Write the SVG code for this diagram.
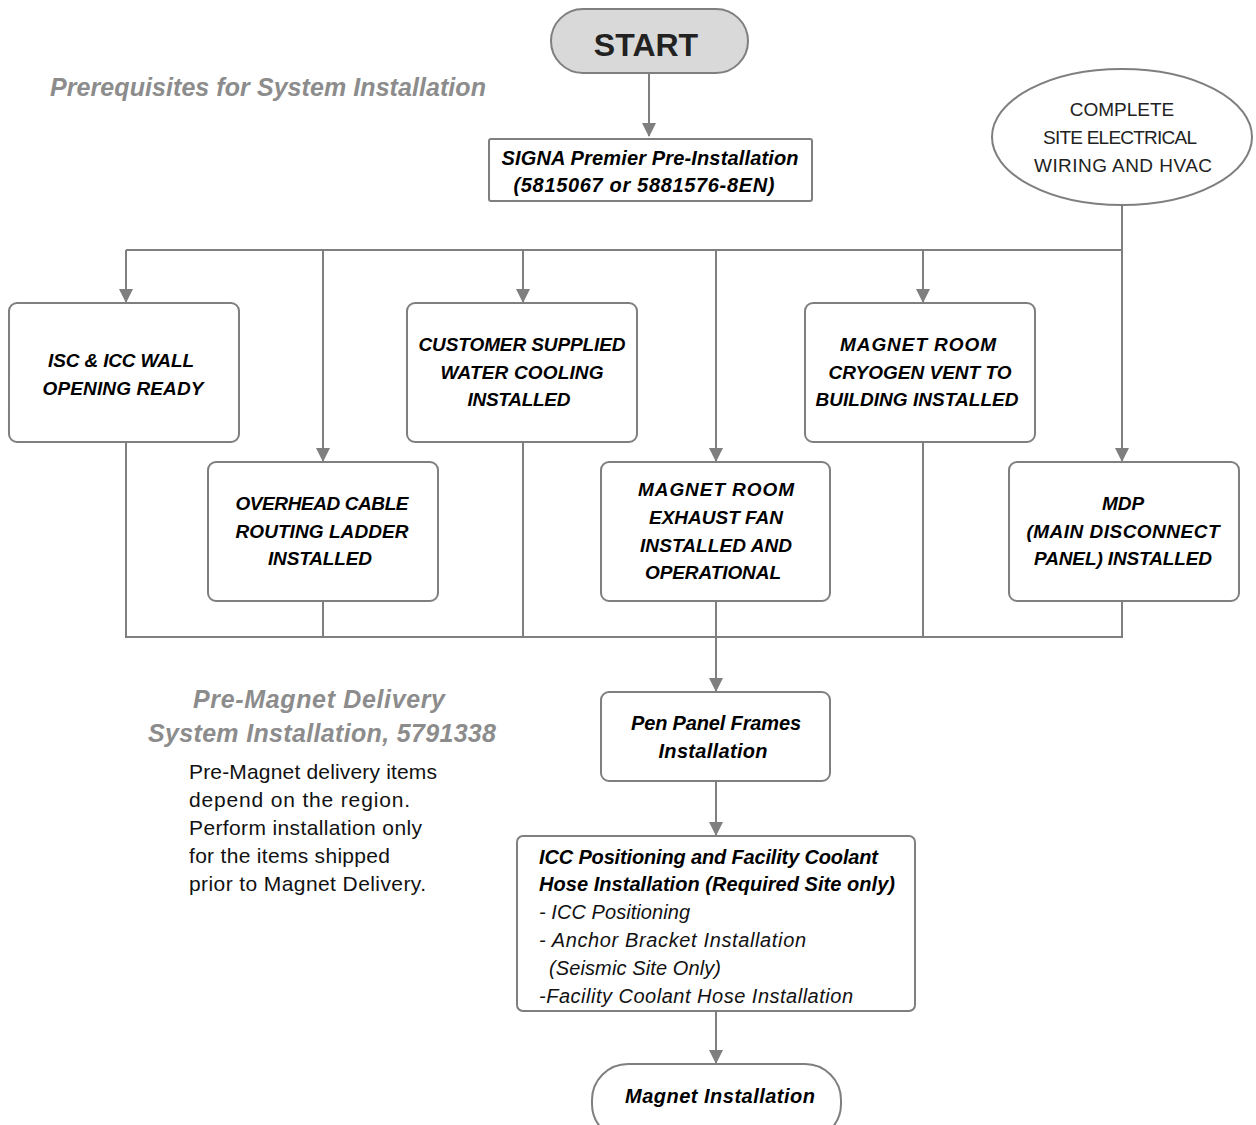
<svg xmlns="http://www.w3.org/2000/svg" width="1256" height="1125" viewBox="0 0 1256 1125">
<style>
.box{fill:#fff;stroke:#7f7f7f;stroke-width:2}
.ln{fill:none;stroke:#7f7f7f;stroke-width:2}
.t{font-family:"Liberation Sans",Arial,sans-serif;font-size:19px;font-weight:bold;font-style:italic;fill:#000;text-anchor:middle}
.m{font-size:20px}
.r{font-family:"Liberation Sans",Arial,sans-serif;font-size:19px;fill:#222;text-anchor:middle}
.gt{font-family:"Liberation Sans",Arial,sans-serif;font-size:25px;font-weight:bold;font-style:italic;fill:#8c8c8c;text-anchor:middle}
.p{font-family:"Liberation Sans",Arial,sans-serif;font-size:21px;fill:#111}
.it{font-family:"Liberation Sans",Arial,sans-serif;font-size:20px;font-style:italic;fill:#111}
.ls{text-anchor:start}
</style>
<defs>
<marker id="ah" markerWidth="14" markerHeight="16" refX="13" refY="7" orient="auto" markerUnits="userSpaceOnUse">
<path d="M0,0 L14,7 L0,14 Z" fill="#7f7f7f"/>
</marker>
</defs>
<rect width="1256" height="1125" fill="#fff"/>
<text class="gt" x="268" y="96" textLength="436">Prerequisites for System Installation</text>
<text class="gt" x="319" y="708" textLength="252">Pre-Magnet Delivery</text>
<text class="gt" x="322" y="742" textLength="348">System Installation, 5791338</text>
<text class="p" x="189" y="779" textLength="248">Pre-Magnet delivery items</text>
<text class="p" x="189" y="807" textLength="221">depend on the region.</text>
<text class="p" x="189" y="835" textLength="233">Perform installation only</text>
<text class="p" x="189" y="863" textLength="201">for the items shipped</text>
<text class="p" x="189" y="891" textLength="237">prior to Magnet Delivery.</text>
<g id="connectors">
<line class="ln" x1="649" y1="73" x2="649" y2="136" marker-end="url(#ah)"/>
<polyline class="ln" points="1122,205 1122,250 126,250"/>
<line class="ln" x1="126" y1="250" x2="126" y2="302" marker-end="url(#ah)"/>
<line class="ln" x1="323" y1="250" x2="323" y2="461" marker-end="url(#ah)"/>
<line class="ln" x1="523" y1="250" x2="523" y2="302" marker-end="url(#ah)"/>
<line class="ln" x1="716" y1="250" x2="716" y2="461" marker-end="url(#ah)"/>
<line class="ln" x1="923" y1="250" x2="923" y2="302" marker-end="url(#ah)"/>
<line class="ln" x1="1122" y1="250" x2="1122" y2="461" marker-end="url(#ah)"/>
<polyline class="ln" points="126,442 126,637 1122,637 1122,601"/>
<line class="ln" x1="323" y1="601" x2="323" y2="637"/>
<line class="ln" x1="523" y1="442" x2="523" y2="637"/>
<line class="ln" x1="923" y1="442" x2="923" y2="637"/>
<line class="ln" x1="716" y1="601" x2="716" y2="691" marker-end="url(#ah)"/>
<line class="ln" x1="716" y1="781" x2="716" y2="835" marker-end="url(#ah)"/>
<line class="ln" x1="716" y1="1011" x2="716" y2="1063" marker-end="url(#ah)"/>
</g>
<g id="start">
<rect x="551" y="9" width="197" height="64" rx="32" fill="#d9d9d9" stroke="#7f7f7f" stroke-width="2"/>
<text x="646" y="56" font-family="Liberation Sans,Arial,sans-serif" font-size="32" font-weight="bold" text-anchor="middle" fill="#222">START</text>
</g>
<g id="signa">
<rect class="box" x="489" y="139" width="323" height="62" rx="2"/>
<text class="t m" x="650" y="165" textLength="297">SIGNA Premier Pre-Installation</text>
<text class="t m" x="644" y="192" textLength="261">(5815067 or 5881576-8EN)</text>
</g>
<g id="site">
<ellipse class="box" cx="1122" cy="137" rx="130" ry="68"/>
<text class="r" x="1122" y="116">COMPLETE</text>
<text class="r" x="1120" y="144" textLength="154">SITE ELECTRICAL</text>
<text class="r" x="1123" y="172" textLength="178">WIRING AND HVAC</text>
</g>
<g id="isc">
<rect class="box" x="9" y="303" width="230" height="139" rx="8"/>
<text class="t" x="121" y="367" textLength="146">ISC &amp; ICC WALL</text>
<text class="t" x="123" y="395" textLength="161">OPENING READY</text>
</g>
<g id="overhead">
<rect class="box" x="208" y="462" width="230" height="139" rx="8"/>
<text class="t" x="322" y="510" textLength="173">OVERHEAD CABLE</text>
<text class="t" x="322" y="538" textLength="173">ROUTING LADDER</text>
<text class="t" x="320" y="565" textLength="104">INSTALLED</text>
</g>
<g id="water">
<rect class="box" x="407" y="303" width="230" height="139" rx="8"/>
<text class="t" x="522" y="351" textLength="207">CUSTOMER SUPPLIED</text>
<text class="t" x="522" y="379" textLength="163">WATER COOLING</text>
<text class="t" x="519" y="406" textLength="103">INSTALLED</text>
</g>
<g id="exhaust">
<rect class="box" x="601" y="462" width="229" height="139" rx="8"/>
<text class="t" x="716" y="496" textLength="156">MAGNET ROOM</text>
<text class="t" x="716" y="524" textLength="134">EXHAUST FAN</text>
<text class="t" x="716" y="552" textLength="152">INSTALLED AND</text>
<text class="t" x="713" y="579" textLength="136">OPERATIONAL</text>
</g>
<g id="cryogen">
<rect class="box" x="805" y="303" width="230" height="139" rx="8"/>
<text class="t" x="918" y="351" textLength="156">MAGNET ROOM</text>
<text class="t" x="920" y="379" textLength="183">CRYOGEN VENT TO</text>
<text class="t" x="917" y="406" textLength="203">BUILDING INSTALLED</text>
</g>
<g id="mdp">
<rect class="box" x="1009" y="462" width="230" height="139" rx="8"/>
<text class="t" x="1123" y="510">MDP</text>
<text class="t" x="1123" y="538" textLength="193">(MAIN DISCONNECT</text>
<text class="t" x="1123" y="565" textLength="178">PANEL) INSTALLED</text>
</g>
<g id="penpanel">
<rect class="box" x="601" y="692" width="229" height="89" rx="8"/>
<text class="t m" x="716" y="730" textLength="170">Pen Panel Frames</text>
<text class="t m" x="713" y="758" textLength="109">Installation</text>
</g>
<g id="icc">
<rect class="box" x="517" y="836" width="398" height="175" rx="6"/>
<text class="t m ls" x="539" y="864" textLength="339">ICC Positioning and Facility Coolant</text>
<text class="t m ls" x="539" y="891" textLength="356">Hose Installation (Required Site only)</text>
<text class="it" x="539" y="919" textLength="151">- ICC Positioning</text>
<text class="it" x="539" y="947" textLength="267">- Anchor Bracket Installation</text>
<text class="it" x="549" y="975" textLength="172">(Seismic Site Only)</text>
<text class="it" x="539" y="1003" textLength="314">-Facility Coolant Hose Installation</text>
</g>
<g id="magnet">
<rect class="box" x="592" y="1064" width="249" height="76" rx="36"/>
<text class="t m" x="720" y="1103" textLength="190">Magnet Installation</text>
</g>
</svg>
